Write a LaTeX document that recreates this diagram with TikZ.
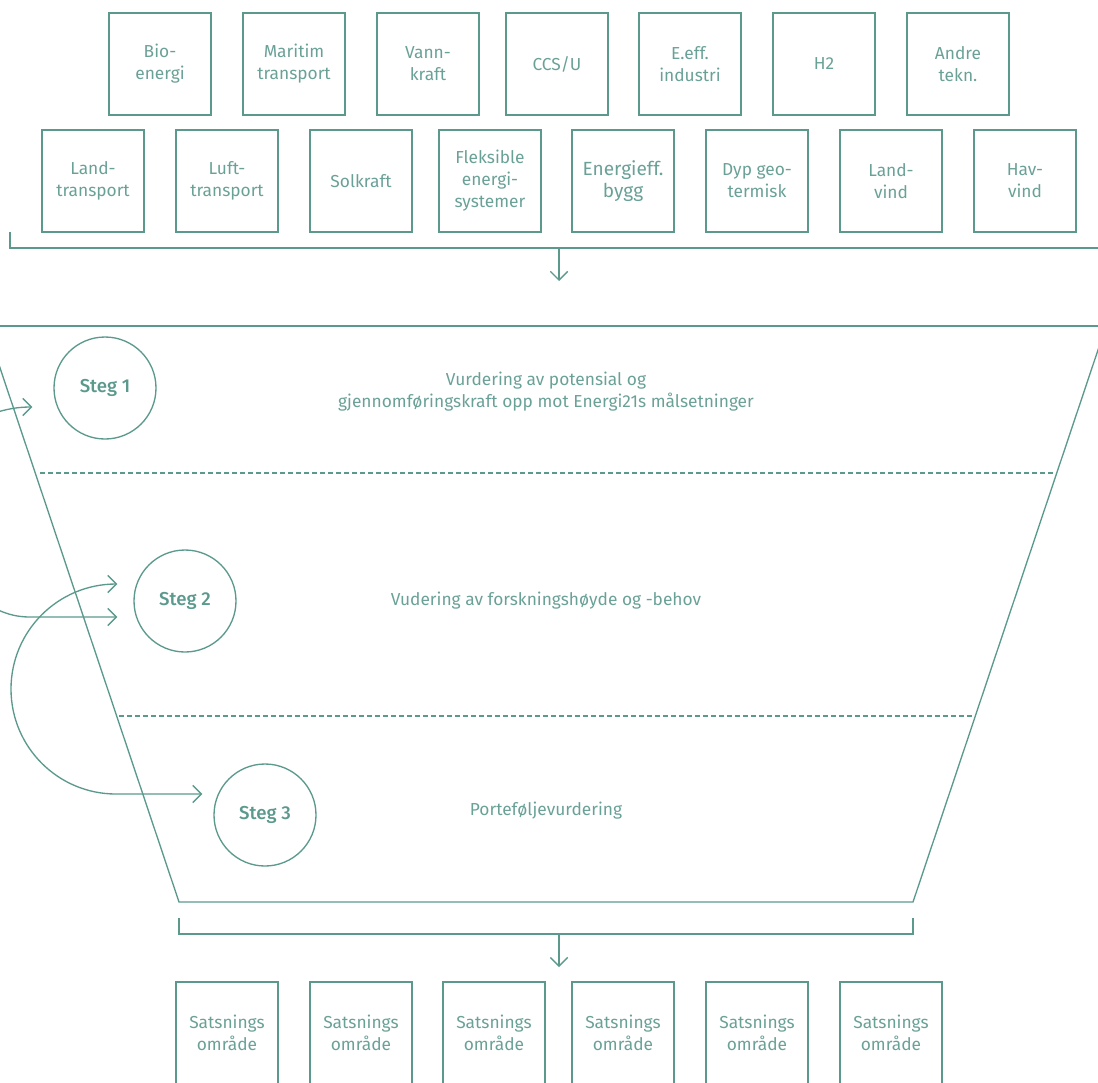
\documentclass[tikz,border=0pt]{standalone}
\usepackage{fontspec}
\setmainfont{Fira Sans}[BoldFont={Fira Sans Medium}]
\usetikzlibrary{positioning}
\usetikzlibrary{calc}
\usetikzlibrary{arrows.meta}
\definecolor{linje}{HTML}{5B998D}
\definecolor{tekst}{HTML}{6AA197}

\begin{document}
\begin{tikzpicture}[x=0.75pt,y=0.75pt,color=linje,line width=1pt,
  font=\fontsize{13}{16.5}\selectfont,
  every node/.style={text=tekst},
  tech/.style={draw,minimum size=76.5pt,inner sep=0pt,outer sep=0pt,align=center},
  steg/.style={draw,circle,minimum size=76.5pt,inner sep=0pt,text=linje,font=\fontsize{14}{16}\selectfont\bfseries},
  pil/.style={-{Straight Barb[length=6.5pt,width=13pt]}},
  pilbegge/.style={{Straight Barb[length=6.5pt,width=13pt]}-{Straight Barb[length=6.5pt,width=13pt]}},
  skille/.style={dash pattern=on 3.5pt off 2.5pt,line width=0.8pt}]
  \clip (0,0) rectangle (1098,-1082);

  \node[tech] (bio) at (160,-64) {Bio-\\energi};
  \node[tech,right=24pt of bio] (maritim) {Maritim\\transport};
  \node[tech,right=24pt of maritim] (vann) {Vann-\\kraft};
  \node[tech,right=20.25pt of vann] (ccs) {CCS/U};
  \node[tech,right=23.25pt of ccs] (eeff) {E.eff.\\industri};
  \node[tech,right=24pt of eeff] (htwo) {H2};
  \node[tech,right=24pt of htwo] (andre) {Andre\\tekn.};

  \node[tech] (landtr) at (93,-181) {Land-\\transport};
  \node[tech,right=24pt of landtr] (lufttr) {Luft-\\transport};
  \node[tech,right=24pt of lufttr] (sol) {Solkraft};
  \node[tech,right=20.25pt of sol] (fleks) {Fleksible\\energi-\\systemer};
  \node[tech,right=23.25pt of fleks,font=\fontsize{14.3}{17}\selectfont] (ebygg) {Energieff.\\bygg};
  \node[tech,right=24pt of ebygg] (dyp) {Dyp geo-\\termisk};
  \node[tech,right=24pt of dyp] (landvind) {Land-\\vind};
  \node[tech,right=24pt of landvind] (havvind) {Hav-\\vind};

  \coordinate (inn) at (559,-248);
  \coordinate (innpil) at (559,-281);
  \draw (10,-232) -- (10,-248) -- (1110,-248);
  \draw[pil] (inn) -- (innpil);

  \draw (-20,-326) -- (1120,-326);
  \draw (-14,-326) -- (179,-902) -- (913,-902) -- (1106,-326);
  \draw[skille] (40,-473) -- (1053,-473);
  \draw[skille] (119,-716) -- (975,-716);

  \node[steg] (s1) at (105,-388) {Steg 1};
  \node[steg] (s2) at (185,-601) {Steg 2};
  \node[steg] (s3) at (265,-815) {Steg 3};

  \node[align=center] (v1) at (546,-392) {Vurdering av potensial og\\gjennomføringskraft opp mot Energi21s målsetninger};
  \node (v2) at (546,-601) {Vudering av forskningshøyde og -behov};
  \node (v3) at (546,-811) {Porteføljevurdering};

  \coordinate (p1) at ($(s1.west)+(-21,-19)$);
  \coordinate (p2a) at ($(s2.west)+(-16,17)$);
  \coordinate (p2b) at ($(s2.west)+(-16,-16)$);
  \coordinate (p3) at ($(s3.west)+(-11,21)$);
  \draw[pil] (-30,-420) to[out=15,in=180] (p1);
  \draw[pil] (-30,-596) to[out=-25,in=180] (30,-617) -- (p2b);
  \draw[pilbegge] (p2a) -- (116,-584) arc[start angle=90,end angle=270,radius=105] -- (p3);

  \coordinate (ut) at (559,-934);
  \coordinate (utpil) at (559,-967);
  \draw (179,-918) -- (179,-934) -- (913,-934) -- (913,-918);
  \draw[pil] (ut) -- (utpil);

  \node[tech] (o1) at (227,-1033) {Satsnings\\område};
  \node[tech,right=24pt of o1] (o2) {Satsnings\\område};
  \node[tech,right=23.25pt of o2] (o3) {Satsnings\\område};
  \node[tech,right=20.25pt of o3] (o4) {Satsnings\\område};
  \node[tech,right=24pt of o4] (o5) {Satsnings\\område};
  \node[tech,right=24pt of o5] (o6) {Satsnings\\område};
\end{tikzpicture}
\end{document}
